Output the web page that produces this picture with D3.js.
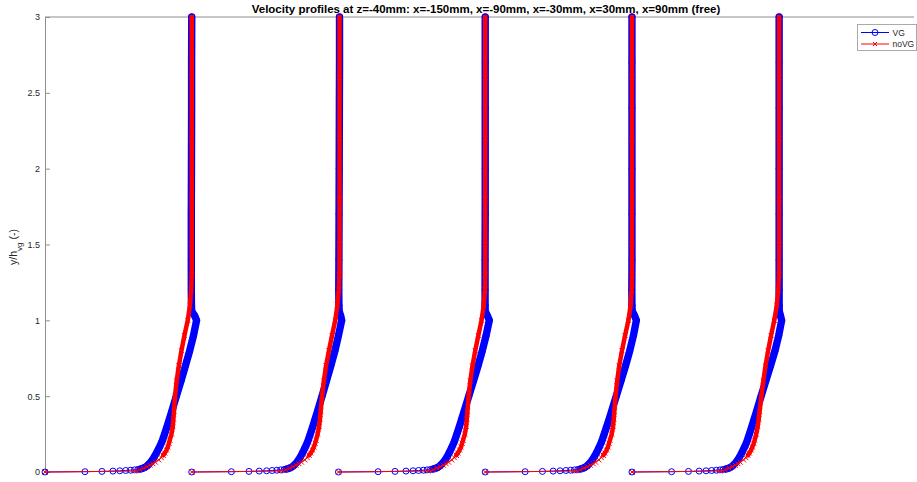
<!DOCTYPE html>
<html>
<head>
<meta charset="utf-8">
<script src="https://cdn.jsdelivr.net/npm/d3@7/dist/d3.min.js"></script>
<style>
  html, body { margin: 0; padding: 0; background: #fff; }
  svg { display: block; font-family: "Liberation Sans", Arial, sans-serif; }
</style>
</head>
<body>
<svg id="chart" width="917" height="482"></svg>
<script>
// ---------------- data ----------------
const title = "Velocity profiles at z=-40mm: x=-150mm, x=-90mm, x=-30mm, x=30mm, x=90mm (free)";
const stations = ["x=-150mm", "x=-90mm", "x=-30mm", "x=30mm", "x=90mm"];
const offsets = [0, 1, 2, 3, 4];
const yTicks = [0, 0.5, 1, 1.5, 2, 2.5, 3];
const yTickLabels = ["0", "0.5", "1", "1.5", "2", "2.5", "3"];
const seriesNames = ["VG", "noVG"];

// wall-normal positions y/h_vg
const yVG = [0, .002, .004, .006, .008, .01, .012, .014, .017, .02, .025, .03, .04, .05, .065, .08, .1, .13, .16, .2,
             .25, .3, .35, .4, .5, .6, .7, .8, .9, 1.0, 1.03, 1.06, 1.1, 1.2, 1.4, 1.7, 2.0, 2.4, 2.7, 3.0];
const yNoVG = [0, .006, .015, .025, .035, .045, .055, .065, .08, .095, .11, .125, .145, .165, .19, .21, .25, .3, .35, .4,
               .5, .6, .7, .8, .9, 1.0, 1.1, 1.2, 1.3, 1.5, 1.8, 2.2, 2.6, 3.0];

// VG velocity profiles (u/U)
const vg1 = [0, .272, .388, .463, .51, .55, .583, .61, .633, .65, .668, .68, .695, .706, .72, .732, .745, .762, .778, .797,
             .815, .832, .848, .864, .895, .927, .957, .986, 1.012, 1.033, 1.02, 1.0, .998, .997, .997, .997, .998, .999, .999, 1.0];
const vg2 = [0, .27, .39, .46, .51, .548, .58, .606, .63, .647, .664, .677, .692, .703, .717, .728, .741, .757, .772, .79,
             .808, .825, .841, .857, .888, .918, .948, .976, 1.0, 1.022, 1.015, 1.005, 1.003, 1.002, 1.003, 1.004, 1.005, 1.006, 1.007, 1.007];
const vg3 = [0, .27, .385, .46, .508, .546, .578, .604, .627, .645, .662, .675, .69, .701, .715, .727, .74, .756, .771, .789,
             .807, .824, .84, .856, .888, .92, .951, .98, 1.006, 1.028, 1.015, 1.0, .999, .999, .999, 1.0, 1.0, 1.0, 1.0, 1.0];
const vg4 = [0, .272, .39, .463, .51, .55, .582, .608, .631, .648, .665, .678, .693, .704, .718, .73, .743, .76, .775, .793,
             .811, .828, .845, .861, .893, .925, .956, .985, 1.01, 1.03, 1.018, 1.002, 1.0, .999, 1.0, 1.0, 1.0, 1.0, 1.0, 1.0];
const vg5 = [0, .27, .385, .458, .505, .543, .575, .6, .622, .64, .657, .67, .685, .696, .71, .721, .734, .75, .765, .783,
             .8, .817, .833, .849, .88, .912, .944, .975, 1.0, 1.02, 1.012, 1.004, 1.003, 1.003, 1.003, 1.003, 1.003, 1.003, 1.003, 1.003];

// noVG velocity profiles (u/U)
const nv1 = [0, .61, .645, .672, .695, .715, .735, .752, .775, .792, .806, .816, .828, .837, .845, .85, .862, .871, .875, .879,
             .886, .897, .912, .93, .95, .973, .988, .996, 1.0, 1.0, 1.0, 1.0, 1.0, 1.0];
const nv2 = [0, .6, .64, .668, .69, .71, .73, .748, .77, .787, .8, .811, .823, .832, .841, .847, .858, .868, .874, .879,
             .888, .9, .915, .935, .956, .978, .993, 1.002, 1.006, 1.007, 1.007, 1.007, 1.007, 1.007];
const nv3 = [0, .61, .645, .672, .694, .714, .733, .75, .772, .789, .803, .813, .825, .835, .843, .849, .861, .87, .875, .879,
             .887, .898, .913, .932, .953, .975, .99, .998, 1.0, 1.0, 1.0, 1.0, 1.0, 1.0];
const nv4 = [0, .61, .646, .673, .696, .716, .735, .752, .774, .791, .805, .815, .827, .836, .844, .85, .862, .871, .876, .88,
             .888, .899, .913, .932, .953, .976, .991, .998, 1.0, 1.0, 1.0, 1.0, 1.0, 1.0];
const nv5 = [0, .6, .635, .662, .684, .703, .722, .738, .76, .776, .79, .8, .812, .821, .83, .836, .847, .857, .864, .87,
             .882, .895, .91, .928, .948, .97, .987, .997, 1.002, 1.003, 1.003, 1.003, 1.003, 1.003];

const vgProfiles = [vg1, vg2, vg3, vg4, vg5];
const noVgProfiles = [nv1, nv2, nv3, nv4, nv5];

// ---------------- drawing ----------------
const svg = d3.select("#chart");
const mLeft = 45, mRight = 914, mTop = 17, mBottom = 472;
const x = d3.scaleLinear().domain([0, 5.922]).range([mLeft, mRight]);
const y = d3.scaleLinear().domain([0, 3]).range([mBottom, mTop]);
const BLUE = "#0000ff", RED = "#ff0000";

svg.append("rect").attr("width", 917).attr("height", 482).attr("fill", "#fff");

// axes
const axisColor = "#8f8f8f";
const yAxis = d3.axisLeft(y).tickValues(yTicks)
  .tickFormat((d, i) => yTickLabels[i]).tickSize(-5).tickSizeOuter(0).tickPadding(5);
const gy = svg.append("g").attr("transform", `translate(${mLeft},0)`).call(yAxis);
gy.select(".domain").attr("stroke", axisColor);
gy.selectAll(".tick line").attr("stroke", axisColor);
gy.selectAll(".tick text").attr("fill", "#262626").style("font-size", "9px")
  .style("font-family", "'Liberation Sans', Arial, sans-serif");
svg.append("line").attr("x1", mLeft).attr("x2", mRight).attr("y1", mTop).attr("y2", mTop)
  .attr("stroke", axisColor);

// y label
const yl = svg.append("text")
  .attr("transform", `translate(17,247) rotate(-90)`)
  .attr("text-anchor", "middle").attr("fill", "#262626").style("font-size", "10.5px");
yl.append("tspan").text("y/h");
yl.append("tspan").attr("baseline-shift", "sub").style("font-size", "8px").text("vg");
yl.append("tspan").text(" (-)");

// title
svg.append("text").attr("x", 486).attr("y", 13).attr("text-anchor", "middle")
  .attr("fill", "#000").style("font-size", "11.5px").style("font-weight", "bold").text(title);

const plot = svg.append("g");
const lineGen = d3.line().x(d => x(d[0])).y(d => y(d[1]));

function crossPath(cx, cy, s) {
  return `M${cx - s},${cy - s}L${cx + s},${cy + s}M${cx - s},${cy + s}L${cx + s},${cy - s}`;
}

offsets.forEach((off, i) => {
  const vgPts = yVG.map((yy, k) => [off + vgProfiles[i][k], yy]);
  const nvPts = yNoVG.map((yy, k) => [off + noVgProfiles[i][k], yy]);
  const g = plot.append("g").attr("class", "station").attr("data-station", stations[i]);

  // VG: dense circle markers -> thick band where markers overlap
  g.append("path").attr("d", lineGen(vgPts.filter(p => p[1] >= 0.02)))
    .attr("fill", "none").attr("stroke", BLUE).attr("stroke-width", 7.4)
    .attr("stroke-linecap", "round").attr("stroke-linejoin", "round");
  g.append("path").attr("d", lineGen(vgPts)).attr("fill", "none").attr("stroke", BLUE).attr("stroke-width", 1);
  g.selectAll("circle.vg").data(vgPts).join("circle").attr("class", "vg")
    .attr("cx", d => x(d[0])).attr("cy", d => y(d[1])).attr("r", 3)
    .attr("fill", "none").attr("stroke", BLUE).attr("stroke-width", 1);

  // noVG: dense cross markers -> band
  g.append("path").attr("d", lineGen(nvPts.filter(p => p[1] >= 0.11)))
    .attr("fill", "none").attr("stroke", RED).attr("stroke-width", 4.5)
    .attr("stroke-linecap", "round").attr("stroke-linejoin", "round");
  g.append("path").attr("d", lineGen(nvPts)).attr("fill", "none").attr("stroke", RED).attr("stroke-width", 1);
  g.selectAll("path.nv").data(nvPts).join("path").attr("class", "nv")
    .attr("d", d => crossPath(x(d[0]), y(d[1]), 2.5))
    .attr("fill", "none").attr("stroke", RED).attr("stroke-width", 1);
});

// legend
const lg = svg.append("g");
lg.append("rect").attr("x", 857.5).attr("y", 24.5).attr("width", 59).attr("height", 26)
  .attr("fill", "#fff").attr("stroke", "#aaaaaa");
const entries = [{name: seriesNames[0], color: BLUE, yy: 32.5}, {name: seriesNames[1], color: RED, yy: 44}];
entries.forEach((e, i) => {
  lg.append("line").attr("x1", 861).attr("x2", 889).attr("y1", e.yy).attr("y2", e.yy)
    .attr("stroke", e.color).attr("stroke-width", 1);
  if (i === 0) {
    lg.append("circle").attr("cx", 875).attr("cy", e.yy).attr("r", 3)
      .attr("fill", "none").attr("stroke", e.color);
  } else {
    lg.append("path").attr("d", crossPath(875, e.yy, 2)).attr("stroke", e.color).attr("fill", "none");
  }
  lg.append("text").attr("x", 892.5).attr("y", e.yy + 3).attr("fill", "#262626")
    .style("font-size", "8.5px").text(e.name);
});
</script>
</body>
</html>
